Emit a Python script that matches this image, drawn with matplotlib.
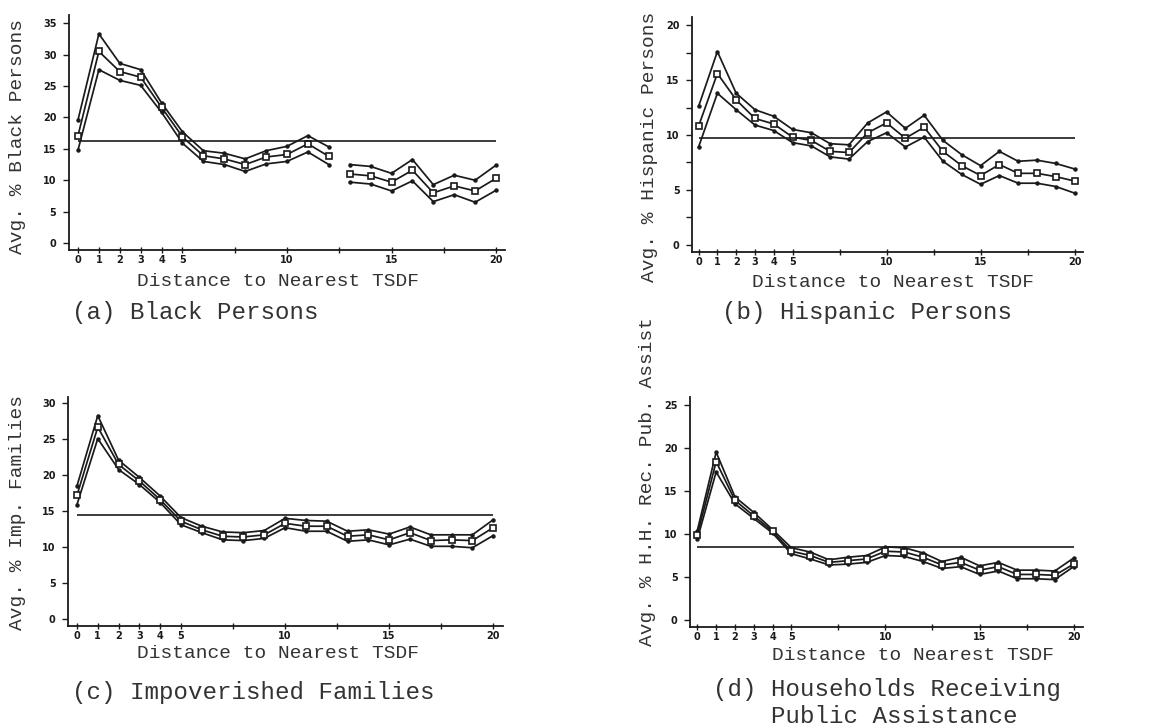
import numpy as np
import matplotlib
matplotlib.use("Agg")
import matplotlib.pyplot as plt
from matplotlib.ticker import MultipleLocator, FixedLocator

# distance (miles) to nearest TSDF
dist = np.arange(0, 21)

# (a) Black persons: upper band, estimate, lower band, overall average
black_hi = [19.6, 33.3, 28.6, 27.6, 22.3, 17.7, 14.7, 14.3, 13.4, 14.7, 15.4,
            17.1, 15.3, 12.5, 12.2, 11.1, 13.3, 9.3, 10.8, 10.0, 12.4]
black_mid = [17.1, 30.5, 27.3, 26.4, 21.6, 16.9, 13.9, 13.4, 12.5, 13.7, 14.1,
             15.8, 13.8, 11.0, 10.7, 9.7, 11.6, 8.0, 9.1, 8.3, 10.3]
black_lo = [14.8, 27.6, 25.9, 25.1, 20.8, 15.9, 13.0, 12.5, 11.4, 12.6, 13.0,
            14.5, 12.5, 9.7, 9.4, 8.3, 9.9, 6.6, 7.7, 6.5, 8.4]
black_avg = 16.2

# (b) Hispanic persons
hisp_hi = [12.6, 17.6, 13.8, 12.3, 11.7, 10.5, 10.2, 9.2, 9.1, 11.1, 12.1,
           10.6, 11.8, 9.5, 8.2, 7.2, 8.5, 7.6, 7.7, 7.4, 6.9]
hisp_mid = [10.8, 15.6, 13.2, 11.5, 11.0, 9.8, 9.5, 8.5, 8.4, 10.2, 11.1,
            9.7, 10.7, 8.5, 7.2, 6.3, 7.3, 6.5, 6.5, 6.2, 5.8]
hisp_lo = [8.9, 13.8, 12.3, 10.9, 10.4, 9.3, 9.0, 8.0, 7.8, 9.4, 10.2,
           8.9, 9.8, 7.6, 6.4, 5.5, 6.3, 5.6, 5.6, 5.3, 4.7]
hisp_avg = 9.7

# (c) Impoverished families
pov_hi = [18.5, 28.3, 22.1, 19.7, 17.1, 14.1, 12.9, 12.1, 12.0, 12.3, 14.0,
          13.7, 13.6, 12.2, 12.4, 11.8, 12.8, 11.7, 11.7, 11.7, 13.8]
pov_mid = [17.2, 26.7, 21.5, 19.2, 16.6, 13.6, 12.4, 11.5, 11.4, 11.7, 13.3,
           12.9, 12.9, 11.5, 11.7, 11.0, 12.0, 10.9, 11.0, 10.9, 12.7]
pov_lo = [15.9, 25.1, 20.8, 18.7, 16.2, 13.1, 12.0, 11.0, 10.9, 11.2, 12.7,
          12.2, 12.2, 10.8, 11.0, 10.3, 11.1, 10.1, 10.1, 9.9, 11.6]
pov_avg = 14.4

# (d) Households receiving public assistance
pub_hi = [10.4, 19.5, 14.3, 12.5, 10.5, 8.4, 7.9, 7.0, 7.3, 7.5, 8.5,
          8.4, 7.8, 6.8, 7.3, 6.3, 6.7, 5.8, 5.8, 5.7, 7.2]
pub_mid = [9.9, 18.4, 13.9, 12.1, 10.3, 8.0, 7.5, 6.7, 6.9, 7.1, 8.0,
           7.9, 7.3, 6.4, 6.7, 5.8, 6.2, 5.3, 5.3, 5.2, 6.5]
pub_lo = [9.4, 17.2, 13.5, 11.8, 10.1, 7.7, 7.1, 6.4, 6.5, 6.7, 7.5,
          7.4, 6.8, 6.0, 6.2, 5.3, 5.7, 4.8, 4.8, 4.7, 6.2]
pub_avg = 8.5

W, H = 1149, 728
INK = "#1a1a1a"
TXT = "#333333"
MONO = ["Liberation Mono", "DejaVu Sans Mono"]

fig = plt.figure(figsize=(W / 100, H / 100), dpi=100)


def px_axes(left, top, right, bottom):
    return fig.add_axes([left / W, 1 - bottom / H, (right - left) / W, (bottom - top) / H])


def ftext(x, y, s, **kw):
    fig.text(x / W, 1 - y / H, s, color=TXT, family=MONO, **kw)


def panel(ax, hi, mid, lo, avg, ylim, xlim, ymajor, yminor=None, split=None):
    segs = [(0, len(dist))] if split is None else [(0, split), (split, len(dist))]
    for a, b in segs:
        xs = dist[a:b]
        ax.plot(xs, hi[a:b], color=INK, lw=1.25, marker="o", ms=2.2)
        ax.plot(xs, lo[a:b], color=INK, lw=1.25, marker="o", ms=2.2)
        ax.plot(xs, mid[a:b], color=INK, lw=1.25, marker="s", ms=4,
                mfc="white", mec=INK, mew=1.2)
    ax.hlines(avg, dist[0], dist[-1], color=INK, lw=1.2)
    ax.set_xlim(*xlim)
    ax.set_ylim(*ylim)
    ax.spines["top"].set_visible(False)
    ax.spines["right"].set_visible(False)
    for sp in ("left", "bottom"):
        ax.spines[sp].set_linewidth(1.3)
        ax.spines[sp].set_color(INK)
    ax.xaxis.set_major_locator(FixedLocator([0, 1, 2, 3, 4, 5, 10, 15, 20]))
    ax.xaxis.set_minor_locator(FixedLocator([7.5, 12.5, 17.5]))
    ax.yaxis.set_major_locator(MultipleLocator(ymajor))
    if yminor:
        ax.yaxis.set_minor_locator(MultipleLocator(yminor))
    ax.tick_params(axis="x", which="both", direction="inout", length=5, width=1,
                   labelsize=7, pad=1, colors=INK)
    ax.tick_params(axis="y", which="both", direction="out", length=4, width=1,
                   labelsize=7, pad=5, colors=INK)
    for lab in ax.get_xticklabels() + ax.get_yticklabels():
        lab.set_fontweight("bold")


ax_a = px_axes(69, 15, 505, 250)
panel(ax_a, black_hi, black_mid, black_lo, black_avg, (-1.1, 36.3), (-0.43, 20.43), 5, split=13)

ax_b = px_axes(692, 17, 1083, 252)
panel(ax_b, hisp_hi, hisp_mid, hisp_lo, hisp_avg, (-0.67, 20.75), (-0.35, 20.45), 5, 2.5)

ax_c = px_axes(68, 397, 503, 626)
panel(ax_c, pov_hi, pov_mid, pov_lo, pov_avg, (-1.0, 30.9), (-0.43, 20.47), 5)

ax_d = px_axes(690, 397, 1083, 627)
panel(ax_d, pub_hi, pub_mid, pub_lo, pub_avg, (-0.8, 25.9), (-0.39, 20.5), 5)

# axis titles
ftext(18, 137, "Avg. % Black Persons", fontsize=14, rotation=90, ha="center", va="center")
ftext(650, 147, "Avg. % Hispanic Persons", fontsize=14, rotation=90, ha="center", va="center")
ftext(18, 512, "Avg. % Imp. Families", fontsize=14, rotation=90, ha="center", va="center")
ftext(648, 482, "Avg. % H.H. Rec. Pub. Assist", fontsize=14, rotation=90, ha="center", va="center")

ftext(137, 282, "Distance to Nearest TSDF", fontsize=14, ha="left", va="center")
ftext(752, 283, "Distance to Nearest TSDF", fontsize=14, ha="left", va="center")
ftext(137, 653, "Distance to Nearest TSDF", fontsize=14, ha="left", va="center")
ftext(772, 655, "Distance to Nearest TSDF", fontsize=14, ha="left", va="center")

# panel captions
ftext(72, 312, "(a) Black Persons", fontsize=17.4, ha="left", va="center")
ftext(722, 313, "(b) Hispanic Persons", fontsize=17.4, ha="left", va="center")
ftext(72, 692, "(c) Impoverished Families", fontsize=17.4, ha="left", va="center")
ftext(713, 703, "(d) Households Receiving\n    Public Assistance", fontsize=17.4,
      ha="left", va="center", linespacing=1.25)

fig.savefig("out.png", dpi=100)
